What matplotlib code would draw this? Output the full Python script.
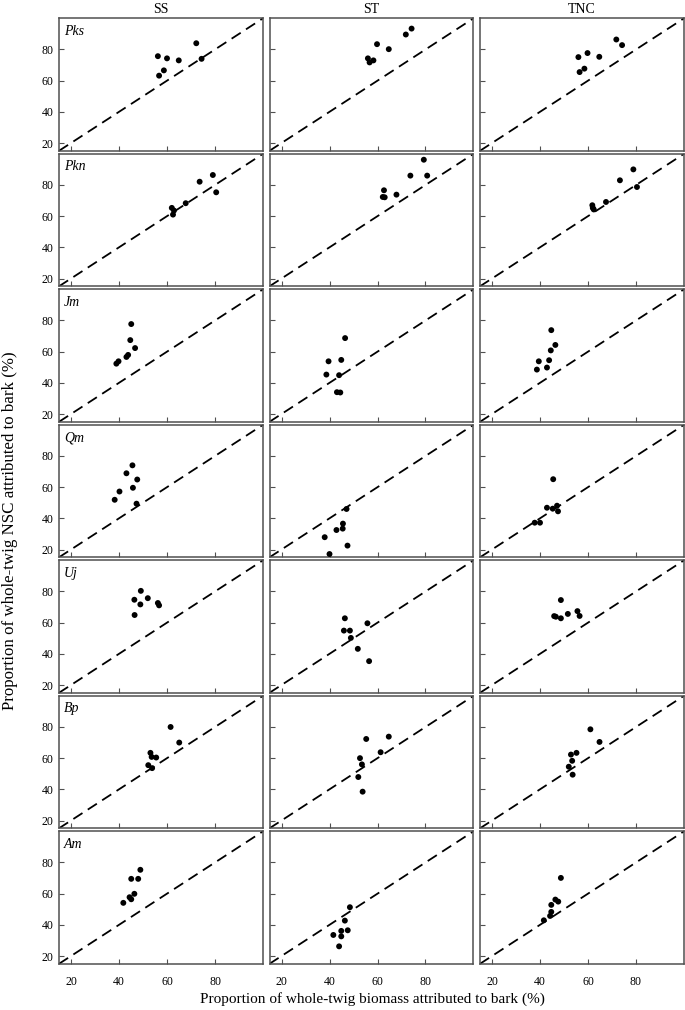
import matplotlib
matplotlib.use("Agg")
import matplotlib.pyplot as plt

plt.rcParams['font.family'] = ['Liberation Serif', 'DejaVu Serif']

columns = ["SS", "ST", "TNC"]
species = ["Pks", "Pkn", "Jm", "Qm", "Uj", "Bp", "Am"]

# biomass proportion (x) per species, one list per column SS / ST / TNC
pks_x = [[56.2, 56.7, 58.7, 60.0, 64.9, 72.2, 74.4],
         [56.0, 56.7, 58.3, 59.8, 64.7, 71.8, 74.2],
         [56.0, 56.5, 58.5, 59.8, 64.7, 71.8, 74.2]]
pks_y = [[75.7, 63.2, 66.6, 74.3, 73.0, 84.0, 74.0],
         [74.3, 71.7, 73.0, 83.4, 80.2, 89.6, 93.4],
         [75.1, 65.5, 67.7, 77.7, 75.3, 86.4, 82.8]]

pkn_x = [[62.0, 62.5, 62.9, 67.8, 73.6, 79.1, 80.5],
         [62.7, 62.2, 63.0, 67.9, 73.7, 79.3, 80.7],
         [61.8, 62.0, 62.4, 67.5, 73.3, 78.9, 80.4]]
pkn_y = [[65.3, 61.0, 63.6, 68.3, 82.1, 86.4, 75.3],
         [76.6, 72.3, 72.1, 73.8, 86.0, 96.2, 86.0],
         [67.0, 65.3, 64.3, 69.1, 83.0, 90.0, 78.7]]

jm_x = [[38.9, 39.8, 43.1, 43.8, 44.7, 45.1, 46.7],
        [38.7, 39.6, 43.1, 44.5, 44.0, 44.9, 46.5],
        [38.7, 39.5, 42.9, 43.8, 44.5, 44.7, 46.4]]
jm_y = [[52.3, 53.8, 56.6, 57.9, 67.4, 77.7, 62.3],
        [45.3, 53.8, 34.0, 33.8, 44.9, 54.7, 68.7],
        [48.5, 53.8, 49.8, 54.5, 60.8, 73.8, 64.3]]

qm_x = [[38.2, 40.2, 43.1, 45.6, 45.8, 47.6, 47.3],
        [38.0, 40.0, 42.9, 45.5, 45.6, 47.1, 47.5],
        [37.8, 40.0, 42.9, 45.3, 45.5, 47.1, 47.5]]
qm_y = [[51.9, 57.2, 68.9, 74.0, 59.6, 64.9, 49.4],
        [27.9, 17.1, 32.5, 33.4, 36.6, 46.0, 22.5],
        [37.2, 37.2, 46.8, 46.2, 65.1, 48.1, 44.5]]

uj_x = [[46.4, 46.5, 48.9, 49.1, 52.0, 56.2, 56.7],
        [46.4, 46.0, 48.5, 48.9, 51.8, 55.8, 56.5],
        [45.9, 46.6, 48.7, 48.7, 51.6, 55.6, 56.5]]
uj_y = [[74.7, 64.9, 71.7, 80.4, 75.7, 72.6, 71.1],
        [62.8, 54.9, 54.9, 50.2, 43.2, 59.6, 35.3],
        [64.2, 63.8, 74.5, 62.8, 65.6, 67.4, 64.3]]

bp_x = [[52.2, 53.1, 53.6, 53.8, 55.5, 61.5, 65.1],
        [52.0, 52.7, 53.5, 53.8, 55.3, 61.3, 64.7],
        [52.0, 52.9, 53.4, 53.6, 55.2, 61.0, 64.8]]
bp_y = [[55.5, 63.4, 60.8, 53.6, 60.4, 80.0, 70.0],
        [47.9, 60.0, 56.0, 38.5, 72.3, 63.8, 73.8],
        [54.5, 62.3, 58.3, 49.4, 63.4, 78.5, 70.4]]

am_x = [[41.8, 44.4, 45.1, 45.1, 46.4, 48.0, 48.9],
        [41.6, 44.0, 44.9, 44.9, 46.4, 47.6, 48.5],
        [41.6, 44.2, 44.7, 44.7, 46.4, 47.6, 48.7]]
am_y = [[54.1, 57.7, 56.4, 69.5, 59.9, 69.5, 75.3],
        [33.5, 26.2, 36.1, 32.6, 42.7, 36.5, 51.3],
        [42.9, 45.7, 48.3, 52.8, 56.2, 54.9, 70.1]]

all_x = [pks_x, pkn_x, jm_x, qm_x, uj_x, bp_x, am_x]
all_y = [pks_y, pkn_y, jm_y, qm_y, uj_y, bp_y, am_y]

ticks = [20, 40, 60, 80]
lim = (15, 100)

W, H = 685, 1010
fig = plt.figure(figsize=(W / 100, H / 100), dpi=100)

left0, pw, gapx = 59, 204, 6.5
top0, ph, pitch = 18.3, 132.5, 135.5
edge = "#505050"

for r in range(len(species)):
    for c in range(len(columns)):
        x0 = left0 + c * (pw + gapx)
        y0 = top0 + r * pitch
        ax = fig.add_axes([x0 / W, 1 - (y0 + ph) / H, pw / W, ph / H])
        ax.plot(lim, lim, color="black", lw=1.3, dashes=(6, 3.5))
        ax.scatter(all_x[r][c], all_y[r][c], s=18, color="black",
                   edgecolors="none", zorder=3)
        ax.set_xlim(lim)
        ax.set_ylim(lim)
        ax.set_xticks(ticks)
        ax.set_yticks(ticks)
        ax.tick_params(direction="in", length=3.5, width=0.8, color=edge,
                       labelsize=8.5)
        ax.tick_params(axis="y", pad=4)
        ax.tick_params(axis="x", pad=9)
        for s in ax.spines.values():
            s.set_color(edge)
            s.set_linewidth(1.1)
        if c != 0:
            ax.set_yticklabels([])
        if r != len(species) - 1:
            ax.set_xticklabels([])
        if c == 0:
            ax.text(0.025, 0.95, species[r], transform=ax.transAxes,
                    fontsize=10, style="italic", va="top", ha="left")
        if r == 0:
            ax.set_title(columns[c], fontsize=10, pad=4)

fig.text(372 / W, 1 - 999 / H,
         "Proportion of whole-twig biomass attributed to bark (%)",
         ha="center", va="center", fontsize=11)
fig.text(10 / W, 1 - 531 / H,
         "Proportion of whole-twig NSC attributed to bark (%)",
         ha="center", va="center", rotation=90, fontsize=12.2)

fig.savefig("out.png", dpi=100)
